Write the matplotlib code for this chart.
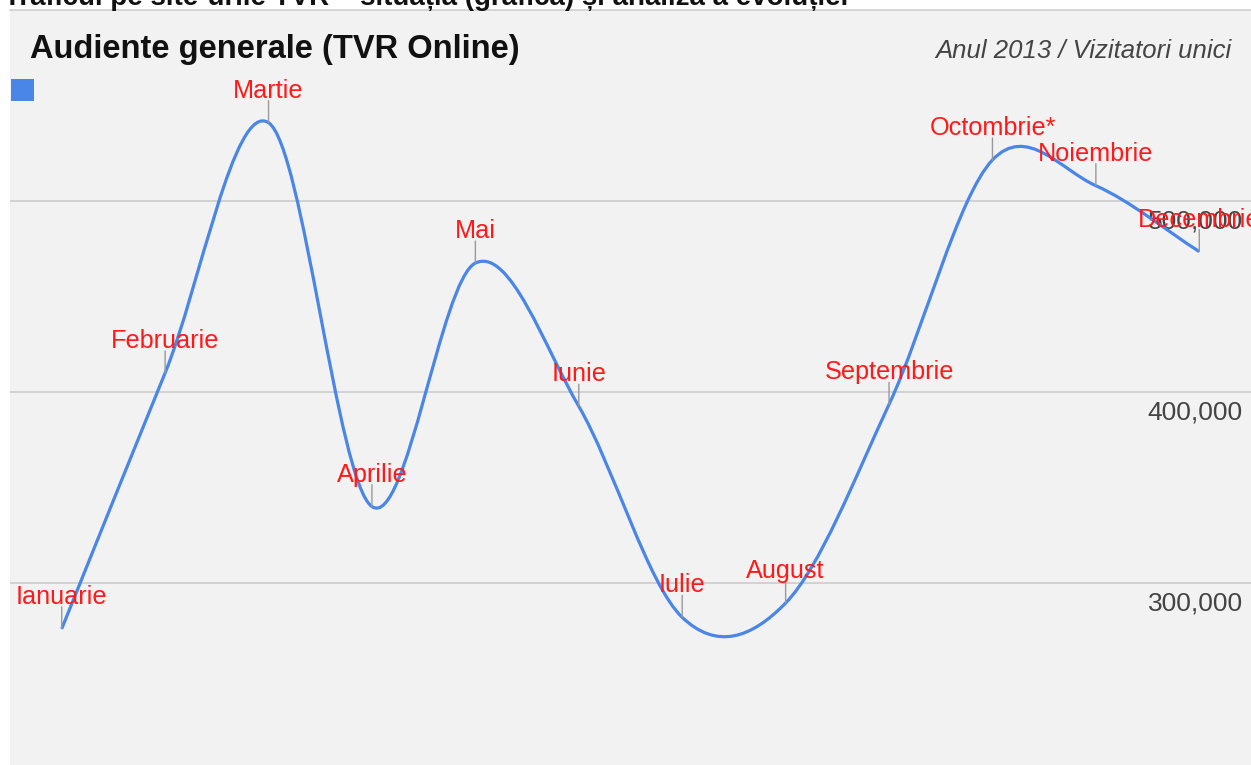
import matplotlib
matplotlib.use("Agg")
import matplotlib.pyplot as plt
import matplotlib.transforms as mtransforms
from matplotlib.path import Path
from matplotlib.patches import PathPatch, Rectangle
import numpy as np

# ---- date ----
luni = ["Ianuarie", "Februarie", "Martie", "Aprilie", "Mai", "Iunie",
        "Iulie", "August", "Septembrie", "Octombrie*", "Noiembrie", "Decembrie"]
vizitatori = [276000, 410000, 541000, 340000, 467500, 392500,
              282000, 289500, 393500, 521500, 508000, 473500]
y_ticks = [300000, 400000, 500000]
y_tick_labels = ["300,000", "400,000", "500,000"]

titlu_sus = "Traficul pe site-urile TVR – situația (grafică) și analiza a evoluției"
titlu = "Audiente generale (TVR Online)"
subtitlu = "Anul 2013 / Vizitatori unici"

# ---- stiluri ----
BG = "#f2f2f2"
BLUE = "#4a86e8"
RED = "#ff1a1a"
GRID = "#cccccc"
STEM = "#999999"
FONT = ["Liberation Sans", "DejaVu Sans"]

plt.rcParams["font.family"] = FONT

W, H = 1251, 765
fig = plt.figure(figsize=(W / 100, H / 100), dpi=100)
fig.patch.set_facecolor("white")

# panoul gri al graficului
ax = fig.add_axes([10 / W, 0, (W - 10) / W, (H - 10) / H])
ax.set_facecolor(BG)
ax.set_xlim(-0.5, len(luni) - 0.5)
ax.set_ylim(204700, 600000)
for s in ["left", "right", "bottom"]:
    ax.spines[s].set_visible(False)
ax.spines["top"].set_color("#cfcfcf")
ax.spines["top"].set_linewidth(1.2)
ax.set_xticks([])
ax.set_yticks([])

# linii de grila
for yt in y_ticks:
    ax.axhline(yt, color=GRID, lw=1.2, zorder=1)

# etichete axa Y (in interior, sub linia de grila)
lab_tr = mtransforms.offset_copy(ax.get_yaxis_transform(), fig=fig, x=0, y=-21, units="dots")
for yt, lbl in zip(y_ticks, y_tick_labels):
    ax.text((1243 - 10) / (W - 10), yt, lbl, transform=lab_tr, ha="right", va="center",
            fontsize=19, color="#444444", zorder=2)

# curba netezita (Catmull-Rom -> bezier cubic) prin punctele lunare
x = np.arange(len(luni), dtype=float)
y = np.array(vizitatori, dtype=float)
pts = np.column_stack([x, y])
tang = np.zeros_like(pts)
tang[1:-1] = (pts[2:] - pts[:-2]) / 2
tang[0] = pts[1] - pts[0]
tang[-1] = pts[-1] - pts[-2]
verts = [pts[0]]
codes = [Path.MOVETO]
for i in range(len(pts) - 1):
    verts += [pts[i] + tang[i] / 3, pts[i + 1] - tang[i + 1] / 3, pts[i + 1]]
    codes += [Path.CURVE4] * 3
ax.add_patch(PathPatch(Path(verts, codes), fill=False, edgecolor=BLUE, lw=2.3,
                       capstyle="butt", zorder=3))

# adnotari: tija gri + numele lunii in rosu
for xi, yi, luna in zip(x, y, luni):
    ax.annotate("", xy=(xi, yi), xytext=(0, 22), textcoords="offset pixels",
                arrowprops=dict(arrowstyle="-", color=STEM, lw=1, shrinkA=0, shrinkB=0),
                zorder=4, annotation_clip=False)
    ax.annotate(luna, xy=(xi, yi), xytext=(0, 25), textcoords="offset pixels",
                ha="center", va="baseline", fontsize=18.2, color=RED, zorder=5,
                annotation_clip=False)

# titluri
fig.text(30 / W, 1 - 58 / H, titlu, ha="left", va="baseline", fontsize=23.5,
         fontweight="bold", color="#111111")
fig.text(1232 / W, 1 - 58 / H, subtitlu, ha="right", va="baseline", fontsize=18.5,
         fontstyle="italic", color="#444444")
# titlul paginii, taiat de marginea de sus
fig.text(4 / W, 1 - 5 / H, titlu_sus, ha="left", va="baseline", fontsize=20,
         fontweight="bold", color="#111111")

# patratul de legenda
fig.patches.append(Rectangle((11 / W, 1 - 101 / H), 23 / W, 22 / H, transform=fig.transFigure,
                             facecolor=BLUE, edgecolor="none", zorder=5))

fig.savefig("out.png", dpi=100, facecolor=fig.get_facecolor())
